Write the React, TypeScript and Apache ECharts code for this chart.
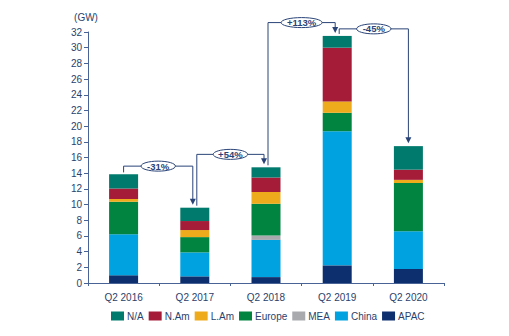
import React, { useEffect, useRef } from "react";
import * as echarts from "echarts";

const categories = ["Q2 2016", "Q2 2017", "Q2 2018", "Q2 2019", "Q2 2020"];
const apac = [1.0, 0.85, 0.75, 2.25, 1.8];
const china = [5.2, 3.05, 4.75, 17.1, 4.8];
const mea = [0, 0, 0.55, 0, 0];
const europe = [4.15, 1.95, 4.05, 2.35, 6.15];
const lam = [0.35, 0.9, 1.5, 1.45, 0.4];
const nam = [1.35, 1.15, 1.85, 6.85, 1.3];
const na = [1.8, 1.7, 1.3, 1.5, 3.0];
const legendOrder = ["N/A", "N.Am", "L.Am", "Europe", "MEA", "China", "APAC"];

// change annotations: from category index -> to index, label, bracket level (GW)
const changeFrom = [0, 1, 2, 3];
const changeTo = [1, 2, 3, 4];
const changeLabels = ["-31%", "+54%", "+113%", "-45%"];
const bracketLevels = [14.9, 16.4, 33.2, 32.4];

const COLORS: Record<string, string> = {
  "N/A": "#007a6c",
  "N.Am": "#a41c38",
  "L.Am": "#eeab1c",
  Europe: "#00843f",
  MEA: "#a9aaae",
  China: "#00a3e0",
  APAC: "#0d2f6e",
};
const LINE = "#2a4478";
const TEXT = "#2b3f6b";

export default function App() {
  const ref = useRef<HTMLDivElement>(null);
  useEffect(() => {
    if (!ref.current) return;
    const chart = echarts.init(ref.current, undefined, { renderer: "svg" });
    const stackSeries: [string, number[]][] = [
      ["APAC", apac],
      ["China", china],
      ["MEA", mea],
      ["Europe", europe],
      ["L.Am", lam],
      ["N.Am", nam],
      ["N/A", na],
    ];
    chart.setOption({
      animation: false,
      textStyle: { fontFamily: "Liberation Sans, Arial, sans-serif" },
      grid: { left: 80, right: 65, top: 24, bottom: 53, containLabel: false },
      legend: {
        data: legendOrder,
        left: 98,
        top: 298,
        itemWidth: 13,
        itemHeight: 9,
        itemGap: 5,
        icon: "rect",
        textStyle: { color: TEXT, fontSize: 10, padding: [0, 0, 0, -2] },
      },
      xAxis: {
        type: "category",
        data: categories,
        axisLine: { lineStyle: { color: "#4a6396", width: 1 } },
        axisTick: { show: true, length: 3, lineStyle: { color: "#4a6396" } },
        axisLabel: { color: TEXT, fontSize: 10, margin: 9 },
      },
      yAxis: {
        type: "value",
        min: 0,
        max: 32,
        interval: 2,
        name: "(GW)",
        nameLocation: "end",
        nameGap: 10,
        nameTextStyle: { color: TEXT, fontSize: 10, padding: [0, 4, 0, 0] },
        splitLine: { show: false },
        axisLine: { show: true, lineStyle: { color: "#4a6396" } },
        axisTick: { show: true, length: 4, lineStyle: { color: "#4a6396" } },
        axisLabel: { color: TEXT, fontSize: 10, margin: 6 },
      },
      series: stackSeries.map(([name, data]) => ({
        name,
        type: "bar",
        stack: "total",
        data,
        barWidth: 29,
        itemStyle: { color: COLORS[name] },
      })),
    });

    const totals = categories.map((_, i) =>
      stackSeries.reduce((s, [, d]) => s + d[i], 0)
    );
    const px = (i: number, v: number) =>
      chart.convertToPixel({ gridIndex: 0 }, [i, v]) as number[];

    const graphics: any[] = [];
    changeFrom.forEach((from, k) => {
      const to = changeTo[k];
      const [x1, yTop1] = px(from, totals[from]);
      const [x2, yTop2] = px(to, totals[to]);
      const [, yl] = px(from, bracketLevels[k]);
      const xa = x1 + (k === 0 ? 0 : 2);
      const xb = x2 - (k === 3 ? 0 : 2);
      const yStart = yTop1 - 2;
      const yEnd = yTop2 - 3;
      graphics.push({
        type: "polyline",
        shape: { points: [[xa, yStart], [xa, yl], [xb, yl], [xb, yEnd - 5]] },
        style: { stroke: LINE, lineWidth: 1, fill: "none" },
        z: 10,
      });
      graphics.push({
        type: "polygon",
        shape: { points: [[xb - 3, yEnd - 6], [xb + 3, yEnd - 6], [xb, yEnd]] },
        style: { fill: LINE },
        z: 10,
      });
      const cx = (xa + xb) / 2;
      const label = changeLabels[k];
      const rx = label.length * 3.3 + 4;
      graphics.push({
        type: "ellipse",
        shape: { cx, cy: yl, rx, ry: 5 },
        style: { fill: "#ffffff", stroke: LINE, lineWidth: 1 },
        z: 11,
      });
      graphics.push({
        type: "text",
        x: cx,
        y: yl,
        style: {
          text: label,
          fill: LINE,
          font: "bold 9.5px Liberation Sans, Arial, sans-serif",
          align: "center",
          verticalAlign: "middle",
        },
        z: 12,
      });
    });
    chart.setOption({ graphic: graphics });

    return () => chart.dispose();
  }, []);
  return <div ref={ref} style={{ width: 501, height: 328 }} />;
}
